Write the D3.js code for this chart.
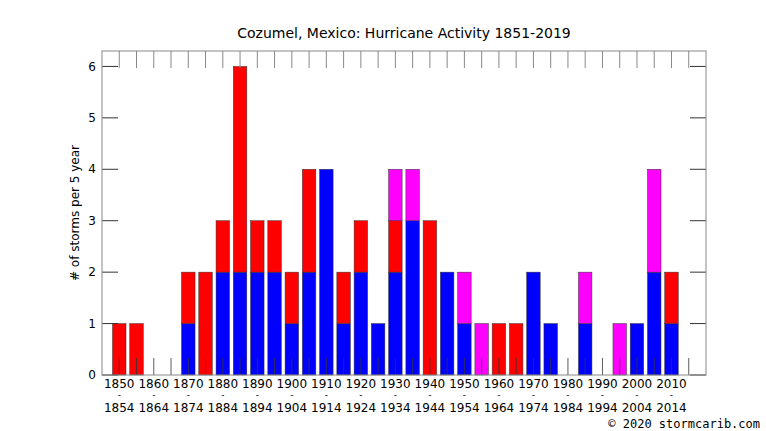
<!DOCTYPE html>
<html><head><meta charset="utf-8">
<script src="https://cdn.jsdelivr.net/npm/d3@7"></script>
<style>body{margin:0;background:#fff}text{font-family:"DejaVu Sans",sans-serif}</style>
</head><body><div id="chart"></div>
<script>
const width = 766, height = 431;
const margin = { top: 51, right: 60, bottom: 56, left: 102 };

// bin start years (5-year bins)
const startYears = d3.range(1850, 2020, 5);
// storm counts per bin, stacked blue -> red -> magenta
const blueVals =    [0,0,0,0,1,0,2,2,2,2,1,2,4,1,2,1,2,3,0,2,1,0,0,0,2,1,0,1,0,0,1,2,1,0];
const redVals =     [1,1,0,0,1,2,1,4,1,1,1,2,0,1,1,0,1,0,3,0,0,0,1,1,0,0,0,0,0,0,0,0,1,0];
const magentaVals = [0,0,0,0,0,0,0,0,0,0,0,0,0,0,0,0,1,1,0,0,1,1,0,0,0,0,0,1,0,1,0,2,0,0];
const colors = ["#0000ff", "#ff0000", "#ff00ff"];
const yTicks = [0,1,2,3,4,5,6];

const svg = d3.select("#chart").append("svg")
  .attr("width", width).attr("height", height);

const x = d3.scaleLinear().domain([1847, 2022])
  .range([margin.left, width - margin.right]);
const y = d3.scaleLinear().domain([0, 6.3])
  .range([height - margin.bottom, margin.top]);

const rows = startYears.map((yr, i) => ({ yr, b: blueVals[i], r: redVals[i], m: magentaVals[i] }));
const stack = d3.stack().keys(["b", "r", "m"])(rows);

const bw = 13.5;
svg.append("g").selectAll("g").data(stack).join("g")
  .attr("fill", (d, i) => colors[i])
  .selectAll("rect").data(d => d.filter(s => s[1] > s[0])).join("rect")
  .attr("x", d => x(d.data.yr + 2) - bw / 2)
  .attr("width", bw)
  .attr("y", d => y(d[1]))
  .attr("height", d => y(d[0]) - y(d[1]))
  .attr("stroke", "#333").attr("stroke-width", 0.5);

const x0 = margin.left, x1 = width - margin.right, yb = height - margin.bottom, yt = margin.top;

// inward ticks: top and bottom at bin centers
svg.append("g").selectAll("line").data(startYears).join("line")
  .attr("x1", d => x(d + 2)).attr("x2", d => x(d + 2))
  .attr("y1", yt).attr("y2", yt + 17)
  .attr("stroke", "#888").attr("stroke-width", 1);
svg.append("g").selectAll("line").data(startYears).join("line")
  .attr("x1", d => x(d + 2)).attr("x2", d => x(d + 2))
  .attr("y1", yb).attr("y2", yb - 17)
  .attr("stroke", "#333").attr("stroke-width", 0.8);

// y ticks left and right
const yg = svg.append("g");
yg.selectAll(".l").data(yTicks).join("line")
  .attr("x1", x0).attr("x2", x0 + 16).attr("y1", d => y(d)).attr("y2", d => y(d))
  .attr("stroke", "#333");
yg.selectAll(".r").data(yTicks).join("line")
  .attr("x1", x1).attr("x2", x1 - 16).attr("y1", d => y(d)).attr("y2", d => y(d))
  .attr("stroke", "#333");
yg.selectAll("text").data(yTicks).join("text")
  .attr("x", x0 - 6).attr("y", d => y(d)).attr("dy", "0.35em")
  .attr("text-anchor", "end").attr("font-size", 12).text(d => d);

// frame
svg.append("rect").attr("x", x0).attr("y", yt).attr("width", x1 - x0).attr("height", yb - yt)
  .attr("fill", "none").attr("stroke", "#888").attr("stroke-width", 1);

// x labels every 10 years
const labYears = startYears.filter(d => d % 10 === 0);
const xl = svg.append("g").attr("font-size", 12).attr("text-anchor", "middle");
labYears.forEach(d => {
  const cx = x(d + 2);
  xl.append("text").attr("x", cx).attr("y", 388).text(d);
  xl.append("text").attr("x", cx).attr("y", 398).attr("font-size", 9).text("-");
  xl.append("text").attr("x", cx).attr("y", 412).text(d + 4);
});

svg.append("text").attr("x", (x0 + x1) / 2).attr("y", 38).attr("text-anchor", "middle")
  .attr("font-size", 14).text("Cozumel, Mexico: Hurricane Activity 1851-2019");

svg.append("text").attr("transform", "rotate(-90)")
  .attr("x", -(yt + yb) / 2).attr("y", 79).attr("text-anchor", "middle")
  .attr("font-size", 12).text("# of storms per 5 year");

svg.append("text").attr("x", 760).attr("y", 428).attr("text-anchor", "end")
  .attr("font-size", 12).style("font-family", "DejaVu Sans Mono")
  .text("© 2020 stormcarib.com");
</script></body></html>
